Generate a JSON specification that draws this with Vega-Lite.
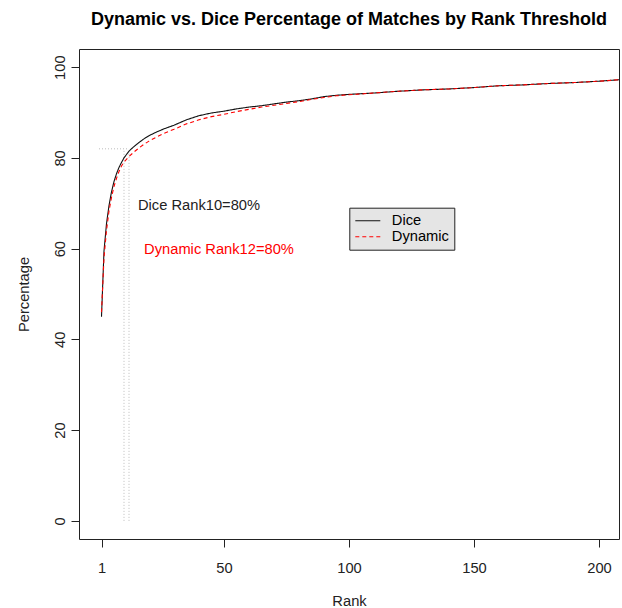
{
  "$schema": "https://vega.github.io/schema/vega-lite/v6.json",
  "width": 540,
  "height": 490,
  "autosize": {"type": "none"},
  "padding": {"left": 79, "top": 49, "right": 3, "bottom": 69},
  "background": "white",
  "title": {
    "text": "Dynamic vs. Dice Percentage of Matches by Rank Threshold",
    "font": "Liberation Sans",
    "fontSize": 18,
    "fontWeight": "bold",
    "color": "#000000",
    "anchor": "middle",
    "frame": "group",
    "baseline": "alphabetic",
    "offset": 6
  },
  "config": {
    "view": {"stroke": "#222222", "strokeWidth": 1},
    "font": "Liberation Sans",
    "axis": {
      "domain": false,
      "grid": false,
      "tickColor": "#222222",
      "tickSize": 8,
      "tickWidth": 1,
      "labelFont": "Liberation Sans",
      "labelFontSize": 14.7,
      "labelColor": "#222222",
      "titleFont": "Liberation Sans",
      "titleFontSize": 14.7,
      "titleFontWeight": "normal",
      "titleColor": "#222222"
    }
  },
  "datasets": {
    "curves": [
      {"rank": 1, "pct": 45, "series": "Dice"},
      {"rank": 2, "pct": 59.5, "series": "Dice"},
      {"rank": 3, "pct": 65.5, "series": "Dice"},
      {"rank": 4, "pct": 69.5, "series": "Dice"},
      {"rank": 5, "pct": 72.5, "series": "Dice"},
      {"rank": 6, "pct": 74.8, "series": "Dice"},
      {"rank": 7, "pct": 76.5, "series": "Dice"},
      {"rank": 8, "pct": 77.9, "series": "Dice"},
      {"rank": 9, "pct": 79, "series": "Dice"},
      {"rank": 10, "pct": 80, "series": "Dice"},
      {"rank": 12, "pct": 81.5, "series": "Dice"},
      {"rank": 14, "pct": 82.5, "series": "Dice"},
      {"rank": 16, "pct": 83.4, "series": "Dice"},
      {"rank": 18, "pct": 84.2, "series": "Dice"},
      {"rank": 20, "pct": 84.9, "series": "Dice"},
      {"rank": 23, "pct": 85.7, "series": "Dice"},
      {"rank": 26, "pct": 86.4, "series": "Dice"},
      {"rank": 30, "pct": 87.2, "series": "Dice"},
      {"rank": 35, "pct": 88.4, "series": "Dice"},
      {"rank": 40, "pct": 89.3, "series": "Dice"},
      {"rank": 45, "pct": 89.9, "series": "Dice"},
      {"rank": 50, "pct": 90.3, "series": "Dice"},
      {"rank": 55, "pct": 90.8, "series": "Dice"},
      {"rank": 60, "pct": 91.2, "series": "Dice"},
      {"rank": 65, "pct": 91.5, "series": "Dice"},
      {"rank": 70, "pct": 91.9, "series": "Dice"},
      {"rank": 75, "pct": 92.3, "series": "Dice"},
      {"rank": 80, "pct": 92.6, "series": "Dice"},
      {"rank": 85, "pct": 93.0, "series": "Dice"},
      {"rank": 90, "pct": 93.5, "series": "Dice"},
      {"rank": 95, "pct": 93.8, "series": "Dice"},
      {"rank": 100, "pct": 94.0, "series": "Dice"},
      {"rank": 110, "pct": 94.3, "series": "Dice"},
      {"rank": 120, "pct": 94.7, "series": "Dice"},
      {"rank": 130, "pct": 95.0, "series": "Dice"},
      {"rank": 140, "pct": 95.2, "series": "Dice"},
      {"rank": 150, "pct": 95.5, "series": "Dice"},
      {"rank": 160, "pct": 95.9, "series": "Dice"},
      {"rank": 170, "pct": 96.1, "series": "Dice"},
      {"rank": 180, "pct": 96.4, "series": "Dice"},
      {"rank": 190, "pct": 96.6, "series": "Dice"},
      {"rank": 200, "pct": 96.9, "series": "Dice"},
      {"rank": 210, "pct": 97.3, "series": "Dice"},
      {"rank": 1, "pct": 46, "series": "Dynamic"},
      {"rank": 2, "pct": 58, "series": "Dynamic"},
      {"rank": 3, "pct": 64, "series": "Dynamic"},
      {"rank": 4, "pct": 68.3, "series": "Dynamic"},
      {"rank": 5, "pct": 71.3, "series": "Dynamic"},
      {"rank": 6, "pct": 73.7, "series": "Dynamic"},
      {"rank": 7, "pct": 75.5, "series": "Dynamic"},
      {"rank": 8, "pct": 77, "series": "Dynamic"},
      {"rank": 9, "pct": 78.2, "series": "Dynamic"},
      {"rank": 10, "pct": 79.1, "series": "Dynamic"},
      {"rank": 12, "pct": 80.3, "series": "Dynamic"},
      {"rank": 14, "pct": 81.3, "series": "Dynamic"},
      {"rank": 16, "pct": 82.2, "series": "Dynamic"},
      {"rank": 18, "pct": 83, "series": "Dynamic"},
      {"rank": 20, "pct": 83.7, "series": "Dynamic"},
      {"rank": 23, "pct": 84.6, "series": "Dynamic"},
      {"rank": 26, "pct": 85.4, "series": "Dynamic"},
      {"rank": 30, "pct": 86.3, "series": "Dynamic"},
      {"rank": 35, "pct": 87.5, "series": "Dynamic"},
      {"rank": 40, "pct": 88.4, "series": "Dynamic"},
      {"rank": 45, "pct": 89.1, "series": "Dynamic"},
      {"rank": 50, "pct": 89.6, "series": "Dynamic"},
      {"rank": 55, "pct": 90.2, "series": "Dynamic"},
      {"rank": 60, "pct": 90.7, "series": "Dynamic"},
      {"rank": 65, "pct": 91.2, "series": "Dynamic"},
      {"rank": 70, "pct": 91.6, "series": "Dynamic"},
      {"rank": 75, "pct": 92.0, "series": "Dynamic"},
      {"rank": 80, "pct": 92.4, "series": "Dynamic"},
      {"rank": 85, "pct": 92.9, "series": "Dynamic"},
      {"rank": 90, "pct": 93.3, "series": "Dynamic"},
      {"rank": 95, "pct": 93.7, "series": "Dynamic"},
      {"rank": 100, "pct": 93.9, "series": "Dynamic"},
      {"rank": 110, "pct": 94.3, "series": "Dynamic"},
      {"rank": 120, "pct": 94.7, "series": "Dynamic"},
      {"rank": 130, "pct": 95.0, "series": "Dynamic"},
      {"rank": 140, "pct": 95.2, "series": "Dynamic"},
      {"rank": 150, "pct": 95.5, "series": "Dynamic"},
      {"rank": 160, "pct": 95.9, "series": "Dynamic"},
      {"rank": 170, "pct": 96.1, "series": "Dynamic"},
      {"rank": 180, "pct": 96.4, "series": "Dynamic"},
      {"rank": 190, "pct": 96.6, "series": "Dynamic"},
      {"rank": 200, "pct": 96.9, "series": "Dynamic"},
      {"rank": 210, "pct": 97.3, "series": "Dynamic"}
    ],
    "guides": [
      {"x": 0, "x2": 12, "y": 82, "y2": 82},
      {"x": 10, "x2": 10, "y": 0, "y2": 82},
      {"x": 12, "x2": 12, "y": 0, "y2": 82}
    ],
    "notes": [
      {"x": 40, "y": 69.3, "label": "Dice Rank10=80%", "who": "Dice"},
      {"x": 48, "y": 59.6, "label": "Dynamic Rank12=80%", "who": "Dynamic"}
    ]
  },
  "layer": [
    {
      "data": {"name": "guides"},
      "mark": {"type": "rule", "color": "#bdbdbd", "strokeWidth": 1, "strokeDash": [1, 2]},
      "encoding": {
        "x": {"field": "x", "type": "quantitative", "scale": {"domain": [-8, 208], "nice": false, "zero": false},
          "axis": {"values": [1, 50, 100, 150, 200], "title": "Rank", "labelBaseline": "alphabetic", "labelPadding": 25, "titleX": 270, "titleY": 66, "titleBaseline": "alphabetic", "titleAlign": "center"}},
        "x2": {"field": "x2"},
        "y": {"field": "y", "type": "quantitative", "scale": {"domain": [-4, 104], "nice": false, "zero": false},
          "axis": {"values": [0, 20, 40, 60, 80, 100], "title": "Percentage", "labelAngle": -90, "labelAlign": "center", "labelBaseline": "alphabetic", "labelPadding": 7, "titleAngle": -90, "titleX": -50.5, "titleY": 245, "titleAlign": "center", "titleBaseline": "alphabetic"}},
        "y2": {"field": "y2"}
      }
    },
    {
      "data": {"name": "curves"},
      "mark": {"type": "line", "strokeWidth": 1.1, "clip": true},
      "encoding": {
        "x": {"field": "rank", "type": "quantitative"},
        "y": {"field": "pct", "type": "quantitative"},
        "color": {"field": "series", "type": "nominal",
          "scale": {"domain": ["Dice", "Dynamic"], "range": ["#111111", "#ff0000"]},
          "legend": {"title": null, "orient": "none", "legendX": 270.3, "legendY": 158.7, "fillColor": "#e5e5e5", "strokeColor": "#222222", "padding": 5, "symbolType": "stroke", "symbolSize": 625, "symbolStrokeWidth": 1.1, "labelFontSize": 14.7, "labelFont": "Liberation Sans", "labelColor": "#000000", "labelOffset": 10.5, "rowPadding": 0, "clipHeight": 16}},
        "strokeDash": {"field": "series", "type": "nominal",
          "scale": {"domain": ["Dice", "Dynamic"], "range": [[1, 0], [4, 3]]},
          "legend": {"title": null, "orient": "none", "legendX": 270.3, "legendY": 158.7, "fillColor": "#e5e5e5", "strokeColor": "#222222", "padding": 5, "symbolType": "stroke", "symbolSize": 625, "symbolStrokeWidth": 1.1, "labelFontSize": 14.7, "labelFont": "Liberation Sans", "labelColor": "#000000", "labelOffset": 10.5, "rowPadding": 0, "clipHeight": 16}}
      }
    },
    {
      "data": {"name": "notes"},
      "transform": [{"filter": "datum.who === 'Dice'"}],
      "mark": {"type": "text", "font": "Liberation Sans", "fontSize": 14.7, "color": "#222222", "align": "center", "baseline": "middle"},
      "encoding": {
        "x": {"field": "x", "type": "quantitative"},
        "y": {"field": "y", "type": "quantitative"},
        "text": {"field": "label"}
      }
    },
    {
      "data": {"name": "notes"},
      "transform": [{"filter": "datum.who === 'Dynamic'"}],
      "mark": {"type": "text", "font": "Liberation Sans", "fontSize": 14.7, "color": "#ff0000", "align": "center", "baseline": "middle"},
      "encoding": {
        "x": {"field": "x", "type": "quantitative"},
        "y": {"field": "y", "type": "quantitative"},
        "text": {"field": "label"}
      }
    }
  ]
}
